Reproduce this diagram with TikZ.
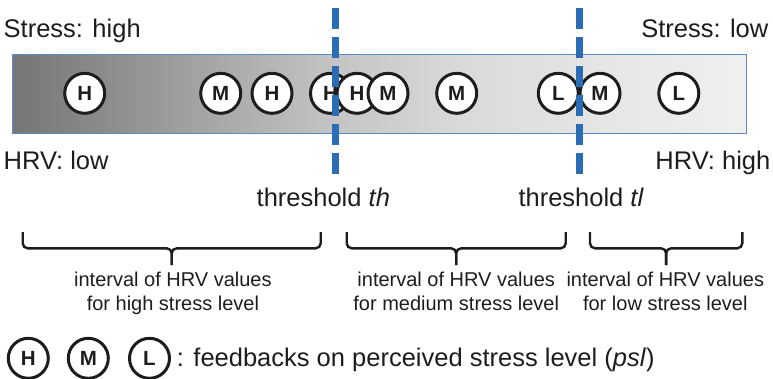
\documentclass[tikz,border=0pt]{standalone}
\usepackage{fontspec}
\setmainfont{Liberation Sans}

\definecolor{inkc}{HTML}{1E1C1D}
\definecolor{threshblue}{HTML}{2A6DB5}
\definecolor{barline}{HTML}{5A8ACB}

% gray ramp of the HRV bar, dark (low HRV) to light (high HRV);
% the visible part of an axis shading is its middle half (25bp to 75bp)
\pgfdeclarehorizontalshading{hrvramp}{100bp}{%
  color(0bp)=(black!54);
  color(25bp)=(black!54);
  color(30bp)=(black!47);
  color(39bp)=(black!34);
  color(47bp)=(black!23);
  color(55bp)=(black!15);
  color(65bp)=(black!10);
  color(75bp)=(black!6);
  color(100bp)=(black!6)}

\begin{document}
\begin{tikzpicture}[x=1pt,y=-1pt,
  every node/.style={text=inkc},
  big/.style={font=\fontsize{25.5}{30}\selectfont, inner sep=0pt},
  small/.style={font=\fontsize{20}{24}\selectfont, inner sep=0pt, align=center},
  fb/.style={circle, draw=inkc, line width=3pt, fill=white, minimum size=40pt,
    inner sep=0pt, font=\fontsize{20.5}{24}\selectfont\bfseries},
  thline/.style={draw=threshblue, line width=7pt, dash pattern=on 21pt off 8pt},
  bracestroke/.style={draw=inkc, line width=2.4pt, rounded corners=5pt}]

\useasboundingbox (0,0) rectangle (773,378);

% HRV bar
\path[shading=hrvramp, shading angle=0] (12,54) rectangle (746,133);
\draw[barline, line width=1pt] (12,54) rectangle (746,133);

% end labels
\node[big, anchor=base west] (stresshigh) at (3.5,37.3) {Stress: high};
\node[big, anchor=base east] (stresslow) at (768.5,37.3) {Stress: low};
\node[big, anchor=base west] (hrvlow) at (3.5,169.5) {HRV: low};
\node[big, anchor=base east] (hrvhigh) at (770.5,169.5) {HRV: high};

% perceived stress feedbacks along the bar
\node[fb] (f1) at (84.7,93.3) {H};
\node[fb] (f2) at (220.7,93.3) {M};
\node[fb] (f3) at (272,93.3) {H};
\node[fb] (f4) at (330.5,93.3) {H};
\node[fb] (f5) at (357,93.3) {H};
\node[fb] (f6) at (388,93.3) {M};
\node[fb] (f7) at (456.7,93.3) {M};
\node[fb] (f8) at (558.3,93.3) {L};
\node[fb] (f9) at (600,93.3) {M};
\node[fb] (f10) at (678.8,93.3) {L};

% thresholds
\coordinate (thtop) at (335.7,8.3);
\coordinate (thbot) at (335.7,174);
\coordinate (tltop) at (579,8.3);
\coordinate (tlbot) at (579,174);
\draw[thline] (thtop) -- (thbot);
\draw[thline] (tltop) -- (tlbot);
\node[big, anchor=base west] (thlabel) at (256.5,206.7) {threshold \textit{th}};
\node[big, anchor=base west] (tllabel) at (518.3,206.7) {threshold \textit{tl}};

% interval braces
\foreach \a/\b/\n in {22.7/320.7/hi, 346.7/565.7/med, 590/742.3/lo}{
  \coordinate (\n l) at (\a,232);
  \coordinate (\n r) at (\b,232);
  \coordinate (\n tip) at ({(\a+\b)/2},265);
  \draw[bracestroke] (\n l) -- (\a,248.3) -- ({(\a+\b)/2},248.3) -- (\n tip);
  \draw[bracestroke] (\n r) -- (\b,248.3) -- ({(\a+\b)/2},248.3) -- (\n tip);
}
% a multi-line node's base is the baseline of its last line
\node[small, anchor=base] (hitext) at (172.9,310) {interval of HRV values\\for high stress level};
\node[small, anchor=base] (medtext) at (456.2,310) {interval of HRV values\\for medium stress level};
\node[small, anchor=base] (lotext) at (665.3,310) {interval of HRV values\\for low stress level};

% legend
\node[fb] (legh) at (28.3,358.3) {H};
\node[fb] (legm) at (88.3,358.3) {M};
\node[fb] (legl) at (149.5,358.3) {L};
\node[big, anchor=base west] (legtext) at (176.7,366) {: feedbacks on perceived stress level (\textit{psl})};

\end{tikzpicture}
\end{document}
